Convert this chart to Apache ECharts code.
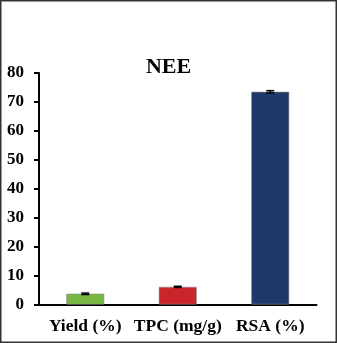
<!DOCTYPE html>
<html>
<head>
<meta charset="utf-8">
<script src="https://cdn.jsdelivr.net/npm/echarts@6/dist/echarts.min.js"></script>
<style>
html,body{margin:0;padding:0;background:#fff;}
#c{width:337px;height:343px;}
</style>
</head>
<body>
<div id="c"></div>
<script>
var categories = ['Yield (%)', 'TPC (mg/g)', 'RSA (%)'];
var values = [3.7, 6.1, 73.5];
var errors = [0.25, 0.2, 0.4];
var colors = ['#77b843', '#c9252b', '#21396a'];
var yTicks = [0, 10, 20, 30, 40, 50, 60, 70, 80];

var chart = echarts.init(document.getElementById('c'), null, {renderer: 'canvas'});
var font = '"Liberation Serif", "Times New Roman", serif';
var option = {
  animation: false,
  backgroundColor: '#fff',
  title: {
    text: 'NEE', left: 'center', top: 51,
    textStyle: {fontFamily: font, fontWeight: 'bold', fontSize: 22, color: '#000'}
  },
  grid: {left: 39, right: 20.5, top: 73, bottom: 38.5, containLabel: false},
  xAxis: {
    type: 'category', data: categories,
    axisLine: {lineStyle: {color: '#000', width: 2}},
    axisTick: {show: false},
    axisLabel: {interval: 0, fontFamily: font, fontWeight: 'bold', fontSize: 17.5, color: '#000', margin: 13}
  },
  yAxis: {
    type: 'value', min: yTicks[0], max: yTicks[yTicks.length - 1], interval: 10,
    axisLine: {show: true, lineStyle: {color: '#000', width: 2}},
    axisTick: {show: true, length: 5, lineStyle: {color: '#000', width: 2}},
    splitLine: {show: false},
    axisLabel: {fontFamily: font, fontWeight: 'bold', fontSize: 17, color: '#000', margin: 15}
  },
  series: [
    {
      type: 'bar', barWidth: '41%',
      data: values.map(function (v, i) {
        return {value: v, itemStyle: {color: colors[i], borderColor: '#8a8a8a', borderWidth: 0.6}};
      })
    },
    {
      type: 'custom', z: 10,
      data: values.map(function (v, i) { return [i, v - errors[i], v + errors[i]]; }),
      renderItem: function (params, api) {
        var lo = api.coord([api.value(0), api.value(1)]);
        var hi = api.coord([api.value(0), api.value(2)]);
        var w = 4;
        var st = {stroke: '#000', lineWidth: 1.5};
        return {type: 'group', children: [
          {type: 'line', shape: {x1: hi[0], y1: hi[1], x2: lo[0], y2: lo[1]}, style: st},
          {type: 'line', shape: {x1: hi[0] - w, y1: hi[1], x2: hi[0] + w, y2: hi[1]}, style: st},
          {type: 'line', shape: {x1: lo[0] - w, y1: lo[1], x2: lo[0] + w, y2: lo[1]}, style: st}
        ]};
      }
    }
  ],
  graphic: [{
    type: 'rect', shape: {x: 0.75, y: 0.75, width: 335.5, height: 341.5},
    style: {fill: 'none', stroke: '#333', lineWidth: 1.5}, silent: true
  }]
};
chart.setOption(option);
</script>
</body>
</html>
